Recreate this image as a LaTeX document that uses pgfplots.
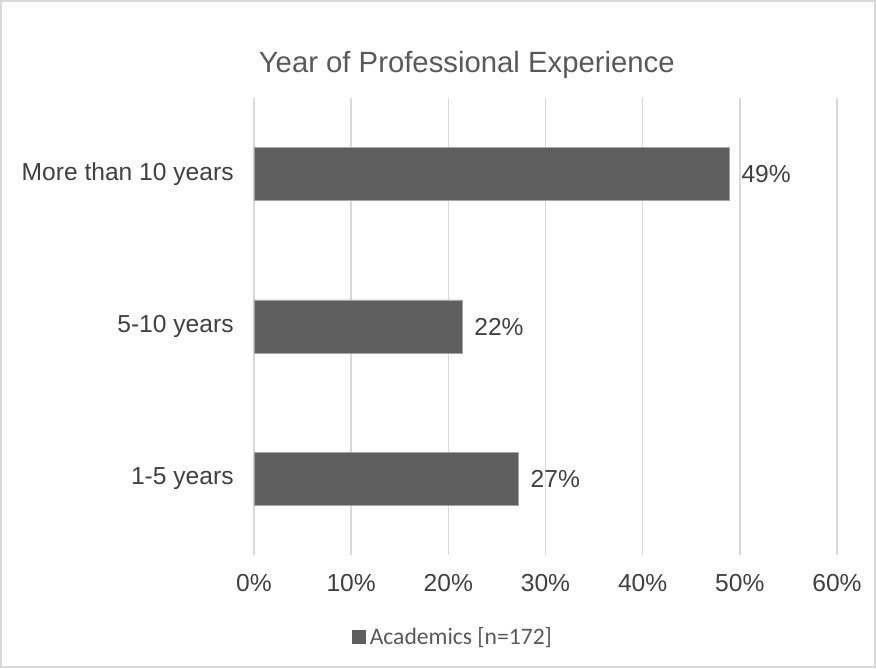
\documentclass[border=0pt]{standalone}
\usepackage{pgfplots}
\pgfplotsset{compat=1.18}
\usepackage{fontspec}
\setmainfont{Liberation Sans}
\newfontfamily\legfont{Carlito}
\definecolor{barc}{RGB}{95,95,95}
\definecolor{baredge}{RGB}{165,165,165}
\definecolor{gridc}{RGB}{217,217,217}
\definecolor{txt}{RGB}{64,64,64}
\definecolor{ttl}{RGB}{89,89,89}
\begin{document}
\begin{tikzpicture}
\useasboundingbox (-127pt,-56.5pt) rectangle (311pt,277.5pt);
\draw[gridc, line width=0.75pt] (-126.6pt,-56.1pt) rectangle (310.6pt,277.1pt);
\begin{axis}[
  at={(0,0)}, anchor=south west,
  scale only axis, width=291.5pt, height=228.5pt,
  xbar, bar width=26.5pt, bar shift=0pt,
  xmin=0, xmax=60, ymin=-0.5, ymax=2.5,
  xtick={0,10,...,60},
  xticklabel={\pgfmathprintnumber{\tick}\%},
  ytick={0,1,2},
  yticklabels={1-5 years,5-10 years,More than 10 years},
  /pgf/number format/assume math mode=true,
  major tick length=0pt,
  axis line style={draw=none},
  xmajorgrids, grid style={gridc, line width=0.75pt},
  tick label style={font=\fontsize{12.3pt}{14pt}\selectfont, text=txt},
  xticklabel style={anchor=north, inner sep=0pt, yshift=-9.5pt},
  yticklabel style={anchor=east, inner sep=0pt, xshift=-10pt},
  point meta=explicit symbolic,
  nodes near coords,
  nodes near coords style={font=\fontsize{12.3pt}{14pt}\selectfont, text=txt, anchor=west, inner sep=0pt, xshift=6pt},
  legend style={at={(0.343,-0.18)}, anchor=center, draw=none, fill=none, font=\legfont\fontsize{11.8pt}{14pt}\selectfont, text=ttl, inner sep=0pt},
  legend image code/.code={\fill[barc] (0pt,-3.25pt) rectangle (6.5pt,3.25pt);},
  legend cell align=left,
  clip=false,
  every axis title shift=0pt,
  title={Year of Professional Experience},
  title style={at={(0.365,1.072)}, anchor=center, font=\fontsize{14.65pt}{17pt}\selectfont, text=ttl},
]
\addplot[fill=barc, draw=baredge, line width=0.4pt] coordinates {
  (27.2,0) [27\%]
  (21.4,1) [22\%]
  (48.9,2) [49\%]
};
\addlegendentry{Academics [n=172]}
\end{axis}
\end{tikzpicture}
\end{document}
